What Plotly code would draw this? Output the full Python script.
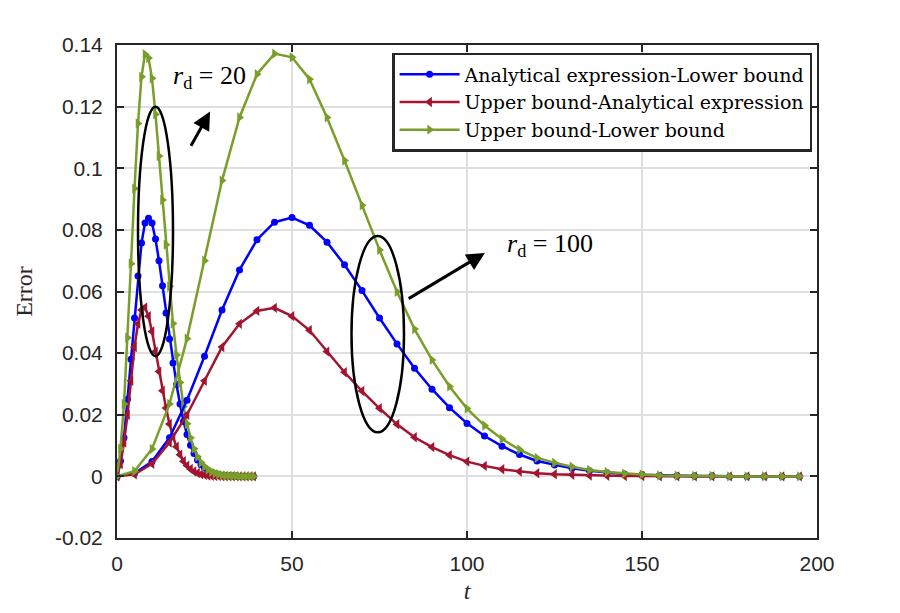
import plotly.graph_objects as go

# ---- data ----
t100 = list(range(0, 200, 5))
blue100 = [0, 0.001, 0.0048, 0.0125, 0.0247, 0.039, 0.054, 0.067, 0.0768, 0.0825,
           0.084, 0.0815, 0.076, 0.0687, 0.0603, 0.0514, 0.043, 0.0351, 0.0283, 0.0223,
           0.0172, 0.0131, 0.0098, 0.0071, 0.0050, 0.0037, 0.0026, 0.0018, 0.0012, 0.0008,
           0.0005, 0.0003, 0.0002, 0.0001, 0.0001, 0, 0, 0, 0, 0]
red100 = [0, 0.0007, 0.0041, 0.011, 0.020, 0.031, 0.042, 0.0495, 0.0537, 0.0547,
          0.052, 0.0474, 0.0405, 0.0338, 0.0277, 0.0221, 0.0169, 0.0127, 0.0095, 0.0069,
          0.0048, 0.0034, 0.0023, 0.0016, 0.0010, 0.0007, 0.0005, 0.0003, 0.0002, 0.0001,
          0.0001, 0, 0, 0, 0, 0, 0, 0, 0, 0]
green100 = [0, 0.0017, 0.0089, 0.0235, 0.0447, 0.070, 0.096, 0.1165, 0.1305, 0.1372,
            0.136, 0.1289, 0.1165, 0.1025, 0.088, 0.0735, 0.0599, 0.0478, 0.0378, 0.0292,
            0.022, 0.0165, 0.0121, 0.0087, 0.006, 0.0044, 0.0031, 0.0021, 0.0014, 0.0009,
            0.0006, 0.0003, 0.0002, 0.0001, 0.0001, 0, 0, 0, 0, 0]

t20 = list(range(0, 40))
blue20 = [0, 0.005, 0.0125, 0.025, 0.038, 0.0514, 0.065, 0.0757, 0.0822, 0.0838,
          0.0822, 0.077, 0.070, 0.0619, 0.053, 0.0446, 0.0368, 0.0298, 0.0235, 0.0178,
          0.0136, 0.0101, 0.0074, 0.0053, 0.0038, 0.0027, 0.0019, 0.0013, 0.0009, 0.0006,
          0.0004, 0.0003, 0.0002, 0.0001, 0.0001, 0, 0, 0, 0, 0]
red20 = [0, 0.004, 0.011, 0.020, 0.031, 0.042, 0.0495, 0.054, 0.0548, 0.052,
         0.047, 0.0405, 0.034, 0.0278, 0.0222, 0.017, 0.0128, 0.0096, 0.007, 0.0049,
         0.0035, 0.0024, 0.0016, 0.0011, 0.0007, 0.0005, 0.0003, 0.0002, 0.0001, 0.0001,
         0, 0, 0, 0, 0, 0, 0, 0, 0, 0]
green20 = [0, 0.009, 0.0235, 0.045, 0.069, 0.0934, 0.1145, 0.1297, 0.137, 0.1358,
           0.1292, 0.1175, 0.104, 0.0897, 0.0752, 0.0616, 0.0496, 0.0394, 0.0305, 0.0227,
           0.0171, 0.0125, 0.009, 0.0064, 0.0045, 0.0032, 0.0022, 0.0015, 0.001, 0.0007,
           0.0004, 0.0003, 0.0002, 0.0001, 0.0001, 0, 0, 0, 0, 0]

names = ["Analytical expression-Lower bound",
         "Upper bound-Analytical expression",
         "Upper bound-Lower bound"]
colors = ["#0000FF", "#A2142F", "#7A9E2A"]
symbols = ["circle", "triangle-left", "triangle-right"]
msizes = [7, 9, 9]

yticks = [-0.02, 0, 0.02, 0.04, 0.06, 0.08, 0.1, 0.12, 0.14]
yticktext = ["-0.02", "0", "0.02", "0.04", "0.06", "0.08", "0.1", "0.12", "0.14"]
xticks = [0, 50, 100, 150, 200]

SERIF = "Liberation Serif"
LEGSERIF = "DejaVu Serif"
SANS = "Liberation Sans"

fig = go.Figure()
for (tt, series, show) in [(t20, [blue20, red20, green20], True),
                           (t100, [blue100, red100, green100], False)]:
    for i, ys in enumerate(series):
        fig.add_trace(go.Scatter(
            x=tt, y=ys, mode="lines+markers", name=names[i],
            legendgroup=names[i], showlegend=show,
            line=dict(color=colors[i], width=2.5),
            marker=dict(symbol=symbols[i], size=msizes[i], color=colors[i],
                        line=dict(width=0)),
        ))

# ellipses
fig.add_shape(type="circle", xref="x", yref="y", x0=6, x1=16, y0=0.039, y1=0.120,
              line=dict(color="black", width=2.5))
fig.add_shape(type="circle", xref="x", yref="y", x0=67, x1=82, y0=0.0143, y1=0.078,
              line=dict(color="black", width=2.5))

# arrows
fig.add_annotation(x=26.6, y=0.1184, ax=20.9, ay=0.1068, xref="x", yref="y",
                   axref="x", ayref="y", showarrow=True, arrowhead=2, arrowsize=1.2,
                   arrowwidth=3, arrowcolor="black", text="")
fig.add_annotation(x=105.1, y=0.0725, ax=82.9, ay=0.0574, xref="x", yref="y",
                   axref="x", ayref="y", showarrow=True, arrowhead=2, arrowsize=1.2,
                   arrowwidth=3, arrowcolor="black", text="")

# labels
fig.add_annotation(x=26.3, y=0.1296, xref="x", yref="y", showarrow=False,
                   text="<i>r</i><sub>d</sub> = 20",
                   font=dict(family=SERIF, size=26, color="black"))
fig.add_annotation(x=123.8, y=0.0752, xref="x", yref="y", showarrow=False,
                   text="<i>r</i><sub>d</sub> = 100",
                   font=dict(family=SERIF, size=26, color="black"))

axis_common = dict(showline=True, linecolor="#262626", linewidth=2, mirror="allticks",
                   ticks="inside", ticklen=7, tickwidth=2, tickcolor="#262626",
                   showgrid=True, gridcolor="#dfdfdf", gridwidth=2, zeroline=False,
                   tickfont=dict(family=SANS, size=21, color="#262626"))

fig.update_layout(
    width=900, height=613,
    margin=dict(l=117, r=83, t=45, b=75),
    paper_bgcolor="white", plot_bgcolor="white",
    xaxis=dict(range=[0, 200], tickvals=xticks, ticklabelstandoff=6,
               title=dict(text="<i>t</i>", font=dict(family=SERIF, size=24, color="#262626"),
                          standoff=8),
               **axis_common),
    yaxis=dict(range=[-0.02, 0.14], tickvals=yticks, ticktext=yticktext,
               ticklabelstandoff=8,
               title=dict(text="Error", font=dict(family=SERIF, size=24, color="#262626"),
                          standoff=16),
               **axis_common),
    legend=dict(x=0.993, y=0.984, xanchor="right", yanchor="top",
                bgcolor="white", bordercolor="#262626", borderwidth=2.5,
                font=dict(family=LEGSERIF, size=19, color="black"),
                tracegroupgap=0, itemwidth=60),
    showlegend=True,
)

fig.write_html("out.html")
